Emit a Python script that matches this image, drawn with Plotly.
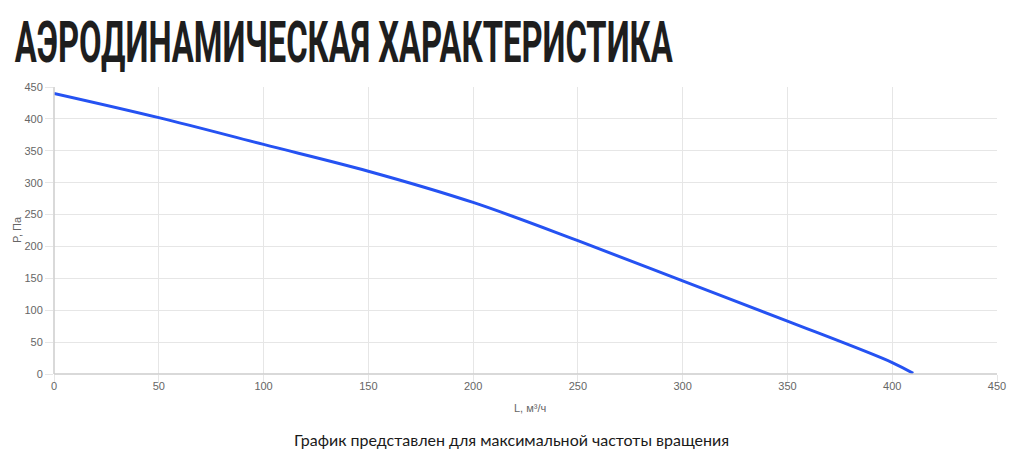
import plotly.graph_objects as go

# Data
flow = [0, 50, 100, 150, 200, 250, 300, 350, 400, 410]
pressure = [440, 402, 360, 318, 269, 209, 146, 83, 18, 1]

x_ticks = [0, 50, 100, 150, 200, 250, 300, 350, 400, 450]
y_ticks = [0, 50, 100, 150, 200, 250, 300, 350, 400, 450]

title_text = "АЭРОДИНАМИЧЕСКАЯ ХАРАКТЕРИСТИКА"
x_title = "L, м³/ч"
y_title = "P, Па"
note_text = "График представлен для максимальной частоты вращения"

# page body has an 8px margin: figure drawn at (8, 8)
W, H = 1016, 445
ML, MR, MT, MB = 46, 27, 79, 79
PW = W - ML - MR
PH = H - MT - MB


def px(xp):  # page x -> paper x
    return (xp - 8 - ML) / PW


def py(yp):  # page y -> paper y
    return (H - MB - (yp - 8)) / PH


fig = go.Figure()
fig.add_trace(go.Scatter(
    x=flow, y=pressure, mode="lines",
    line=dict(color="#2552f2", width=3, shape="spline", smoothing=1.0),
    hoverinfo="x+y", showlegend=False,
))

grid = "#e6e6e6"
tickfont = dict(family="Liberation Sans, Arial, sans-serif", size=11, color="#666666")
axis_common = dict(
    showgrid=True, gridcolor=grid, gridwidth=1,
    ticks="outside", ticklen=8, tickcolor=grid,
    tickfont=tickfont, zeroline=False, showline=False,
)

fig.update_xaxes(range=[0, 450], tickvals=x_ticks, ticktext=[str(v) for v in x_ticks],
                 ticklabelstandoff=-6, **axis_common)
fig.update_yaxes(range=[0, 450], tickvals=y_ticks, ticktext=[str(v) for v in y_ticks], **axis_common)

fig.add_shape(type="line", xref="paper", yref="paper", x0=0, x1=1, y0=0, y1=0,
              line=dict(color="#cccccc", width=1.5))
fig.add_shape(type="line", xref="paper", yref="paper", x0=0, x1=0, y0=0, y1=1,
              line=dict(color="#cccccc", width=1.5))

fig.add_annotation(text=x_title, xref="paper", yref="paper", x=px(530), y=py(408),
                   showarrow=False, xanchor="center", yanchor="middle", font=tickfont)
fig.add_annotation(text=y_title, xref="paper", yref="paper", x=px(17), y=py(230),
                   showarrow=False, xanchor="center", yanchor="middle", textangle=-90, font=tickfont)
fig.add_annotation(text=title_text, xref="paper", yref="paper",
                   x=px(343), y=py(42), showarrow=False, xanchor="center", yanchor="middle",
                   font=dict(family="Roboto, Liberation Sans, sans-serif", size=58, color="#1e1e1e",
                             weight=700))
fig.add_annotation(text=note_text, xref="paper", yref="paper",
                   x=px(511), y=py(440), showarrow=False, xanchor="center", yanchor="middle",
                   font=dict(family="Lato, Noto Sans, sans-serif", size=16, color="#1a1a1a"))

fig.update_layout(
    width=W, height=H,
    margin=dict(l=ML, r=MR, t=MT, b=MB),
    paper_bgcolor="white", plot_bgcolor="white",
    showlegend=False,
)

# condense the heading glyphs to the reference's width (text stays real SVG text)
post = """
(function(){
  var gd = document.getElementById('{plot_id}');
  var NEWW = 658;
  function fix(){
    var ts = gd.querySelectorAll('text.annotation-text');
    ts.forEach(function(t){
      if (t.textContent.indexOf('АЭРОДИНАМИЧЕСКАЯ') === 0 && !t.getAttribute('textLength')) {
        t.setAttribute('textLength', String(NEWW));
        t.setAttribute('lengthAdjust', 'spacingAndGlyphs');
        var g = t.parentNode;
        var r = g ? g.querySelector('rect.bg') : null;
        if (r) {
          var w = parseFloat(r.getAttribute('width')) || 0;
          var x = parseFloat(r.getAttribute('x')) || 0;
          var nw = NEWW + 4;
          r.setAttribute('x', String(x + (w - nw) / 2));
          r.setAttribute('width', String(nw));
        }
      }
    });
  }
  fix();
  if (gd.on) gd.on('plotly_afterplot', fix);
  setTimeout(fix, 50); setTimeout(fix, 300);
})();
"""

fig.write_html("out.html", post_script=post)
